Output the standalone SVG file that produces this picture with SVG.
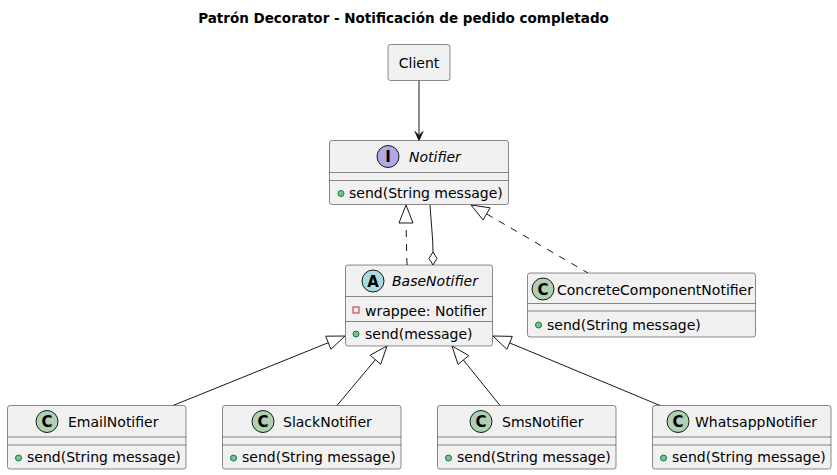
<svg xmlns="http://www.w3.org/2000/svg" width="837" height="475" viewBox="0 0 837 475">
<style>
text{font-family:"DejaVu Sans",sans-serif;font-size:14px;fill:#000}
.title{font-weight:bold;font-size:13.5px}
.box{fill:#F1F1F1;stroke:#181818;stroke-width:0.5}
.sep{stroke:#181818;stroke-width:0.5}
.ital{font-style:italic}
.circI{fill:#B4A7E5;stroke:#181818;stroke-width:1}
.circA{fill:#A9DCDF;stroke:#181818;stroke-width:1}
.circC{fill:#ADD1B2;stroke:#181818;stroke-width:1}
.glyph{font-weight:bold;font-size:15px;text-anchor:middle}
.pub{fill:#84BE84;stroke:#038048;stroke-width:1}
.priv{fill:none;stroke:#C82930;stroke-width:1}
.ln{fill:none;stroke:#181818;stroke-width:1}
.dash{fill:none;stroke:#181818;stroke-width:1;stroke-dasharray:7,7}
.tri{fill:none;stroke:#181818;stroke-width:1}
</style>
<rect width="837" height="475" fill="#FFFFFF"/>
<text class="title" x="403.5" y="22.5" text-anchor="middle">Patrón Decorator - Notificación de pedido completado</text>

<g id="connectors">
  <line class="ln" x1="419" y1="80.5" x2="419" y2="139"/>
  <polygon points="419,140.5 415,131.5 419,135.5 423,131.5" fill="#181818" stroke="#181818" stroke-width="1"/>
  <line class="dash" x1="407" y1="265" x2="406" y2="223"/>
  <polygon class="tri" points="406,205 399,223 413,223"/>
  <path class="ln" d="M430,205 C431,222 433,238 433,252"/>
  <polygon points="433,265 437,258.5 433,252 429,258.5" fill="#FFFFFF" stroke="#181818" stroke-width="1"/>
  <line class="dash" x1="486.6" y1="213.9" x2="588" y2="273"/>
  <polygon class="tri" points="471,205 483.1,220 490.1,207.8"/>
  <line class="ln" x1="173" y1="405.5" x2="328.3" y2="342.7"/>
  <polygon class="tri" points="345,336 330.9,349.2 325.7,336.2"/>
  <line class="ln" x1="337" y1="405.5" x2="375.4" y2="359.7"/>
  <polygon class="tri" points="387,346 380.7,364.2 370.1,355.2"/>
  <line class="ln" x1="500" y1="405.5" x2="463.4" y2="360"/>
  <polygon class="tri" points="452,346 468.8,355.6 458,364.4"/>
  <line class="ln" x1="660" y1="405.5" x2="509.6" y2="342.9"/>
  <polygon class="tri" points="493,336 512.3,336.4 506.9,349.4"/>
</g>

<g id="Client">
  <rect class="box" x="388" y="44.5" width="62" height="36" rx="2.5"/>
  <text x="419" y="67.5" text-anchor="middle">Client</text>
</g>

<g id="Notifier">
  <rect class="box" x="329.5" y="140.5" width="179" height="64" rx="2.5"/>
  <circle class="circI" cx="388" cy="156.5" r="11"/>
  <text class="glyph" x="388" y="162">I</text>
  <text class="ital" x="409" y="161.5">Notifier</text>
  <line class="sep" x1="329.5" y1="172.5" x2="508.5" y2="172.5"/>
  <line class="sep" x1="329.5" y1="180.5" x2="508.5" y2="180.5"/>
  <circle class="pub" cx="341" cy="193.5" r="3"/>
  <text x="349" y="198">send(String message)</text>
</g>

<g id="BaseNotifier">
  <rect class="box" x="345.5" y="265" width="147" height="81" rx="2.5"/>
  <circle class="circA" cx="373" cy="281" r="11"/>
  <text class="glyph" x="373" y="286.5">A</text>
  <text class="ital" x="392" y="286">BaseNotifier</text>
  <line class="sep" x1="345.5" y1="296.5" x2="492.5" y2="296.5"/>
  <rect class="priv" x="353" y="307" width="6" height="6"/>
  <text x="365" y="315.5">wrappee: Notifier</text>
  <line class="sep" x1="345.5" y1="321.5" x2="492.5" y2="321.5"/>
  <circle class="pub" cx="356" cy="334" r="3"/>
  <text x="365" y="338.5">send(message)</text>
</g>

<g id="ConcreteComponentNotifier">
  <rect class="box" x="527.5" y="273" width="228" height="64" rx="2.5"/>
  <circle class="circC" cx="543" cy="289" r="11"/>
  <text class="glyph" x="543" y="294.5">C</text>
  <text x="557" y="294.5">ConcreteComponentNotifier</text>
  <line class="sep" x1="527.5" y1="303.5" x2="755.5" y2="303.5"/>
  <line class="sep" x1="527.5" y1="311" x2="755.5" y2="311"/>
  <circle class="pub" cx="538.5" cy="325" r="3"/>
  <text x="547" y="330">send(String message)</text>
</g>

<g id="EmailNotifier">
  <rect class="box" x="7.5" y="405.5" width="178.5" height="63.5" rx="2.5"/>
  <circle class="circC" cx="47" cy="421.5" r="11"/>
  <text class="glyph" x="47" y="427">C</text>
  <text x="68" y="427">EmailNotifier</text>
  <line class="sep" x1="7.5" y1="437" x2="186" y2="437"/>
  <line class="sep" x1="7.5" y1="445" x2="186" y2="445"/>
  <circle class="pub" cx="18.5" cy="458" r="3"/>
  <text x="27" y="462">send(String message)</text>
</g>

<g id="SlackNotifier">
  <rect class="box" x="222.5" y="405.5" width="178.5" height="63.5" rx="2.5"/>
  <circle class="circC" cx="263" cy="421.5" r="11"/>
  <text class="glyph" x="263" y="427">C</text>
  <text x="283" y="427">SlackNotifier</text>
  <line class="sep" x1="222.5" y1="437" x2="401" y2="437"/>
  <line class="sep" x1="222.5" y1="445" x2="401" y2="445"/>
  <circle class="pub" cx="233.5" cy="458" r="3"/>
  <text x="242" y="462">send(String message)</text>
</g>

<g id="SmsNotifier">
  <rect class="box" x="437.5" y="405.5" width="178.5" height="63.5" rx="2.5"/>
  <circle class="circC" cx="481" cy="421.5" r="11"/>
  <text class="glyph" x="481" y="427">C</text>
  <text x="502" y="427">SmsNotifier</text>
  <line class="sep" x1="437.5" y1="437" x2="616" y2="437"/>
  <line class="sep" x1="437.5" y1="445" x2="616" y2="445"/>
  <circle class="pub" cx="448.5" cy="458" r="3"/>
  <text x="457" y="462">send(String message)</text>
</g>

<g id="WhatsappNotifier">
  <rect class="box" x="652.5" y="405.5" width="178.5" height="63.5" rx="2.5"/>
  <circle class="circC" cx="678" cy="421.5" r="11"/>
  <text class="glyph" x="678" y="427">C</text>
  <text x="695" y="427">WhatsappNotifier</text>
  <line class="sep" x1="652.5" y1="437" x2="831" y2="437"/>
  <line class="sep" x1="652.5" y1="445" x2="831" y2="445"/>
  <circle class="pub" cx="663.5" cy="458" r="3"/>
  <text x="672" y="462">send(String message)</text>
</g>
</svg>
